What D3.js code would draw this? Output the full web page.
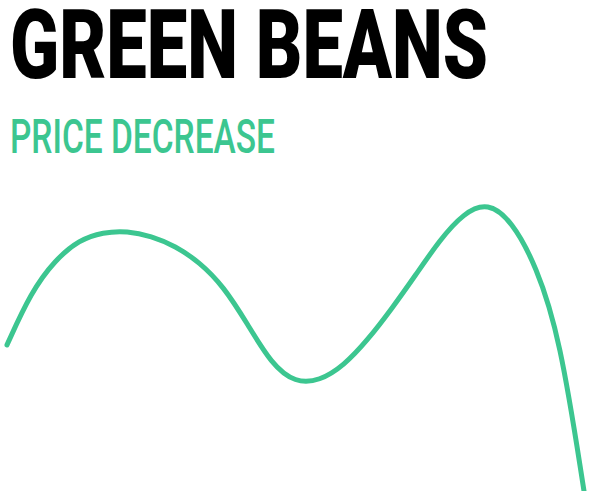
<!DOCTYPE html>
<html>
<head>
<meta charset="utf-8">
<script src="https://cdn.jsdelivr.net/npm/d3@7"></script>
<style>
  html, body { margin: 0; padding: 0; background: #fff; overflow: hidden; }
  svg { display: block; }
</style>
</head>
<body>
<svg id="chart" width="589" height="491"></svg>
<script>
// Green bean price index, sampled weekly
const weeks = [0, 1, 2, 3, 4, 5, 6, 7, 8, 9, 10, 11, 12,
               13, 14, 15, 16, 17, 18, 19, 20, 21, 22, 23, 24];
const priceIndex = [48.7, 66.3, 77, 83.7, 86.3, 86.7, 85, 81.7, 76.3, 68.3, 55.7, 42.3, 36,
                    36.7, 41.7, 50.3, 60.7, 72, 83.7, 92.7, 96.3, 90, 75.3, 51.3, 0];

const titleText = "GREEN BEANS";
const subtitleText = "PRICE DECREASE";
const accent = "#3cc690";

const svg = d3.select("#chart");

const x = d3.scaleLinear().domain(d3.extent(weeks)).range([7, 584]);
const y = d3.scaleLinear().domain([0, 100]).range([491, 191]);

const line = d3.line()
  .x((d, i) => x(weeks[i]))
  .y(d => y(d))
  .curve(d3.curveBasis);

svg.append("path")
  .datum(priceIndex)
  .attr("d", line)
  .attr("fill", "none")
  .attr("stroke", accent)
  .attr("stroke-width", 5)
  .attr("stroke-linecap", "round");

// Condensed headline: set in a wide face, then squeezed horizontally to its box width
function condensedText(str, left, baseline, boxWidth, attrs) {
  const t = svg.append("text").attr("x", 0).attr("y", 0).text(str);
  Object.entries(attrs).forEach(([k, v]) => t.attr(k, v));
  const natural = t.node().getComputedTextLength();
  t.attr("transform", `translate(${left},${baseline}) scale(${boxWidth / natural},1)`);
  return t;
}

condensedText(titleText, 10, 78, 478, {
  "font-family": "Roboto, 'DejaVu Sans', sans-serif",
  "font-weight": 900,
  "font-size": 96,
  "fill": "#000"
});

condensedText(subtitleText, 10, 153, 265, {
  "font-family": "Roboto, 'DejaVu Sans', sans-serif",
  "font-weight": 500,
  "font-size": 49,
  "fill": accent
});
</script>
</body>
</html>
